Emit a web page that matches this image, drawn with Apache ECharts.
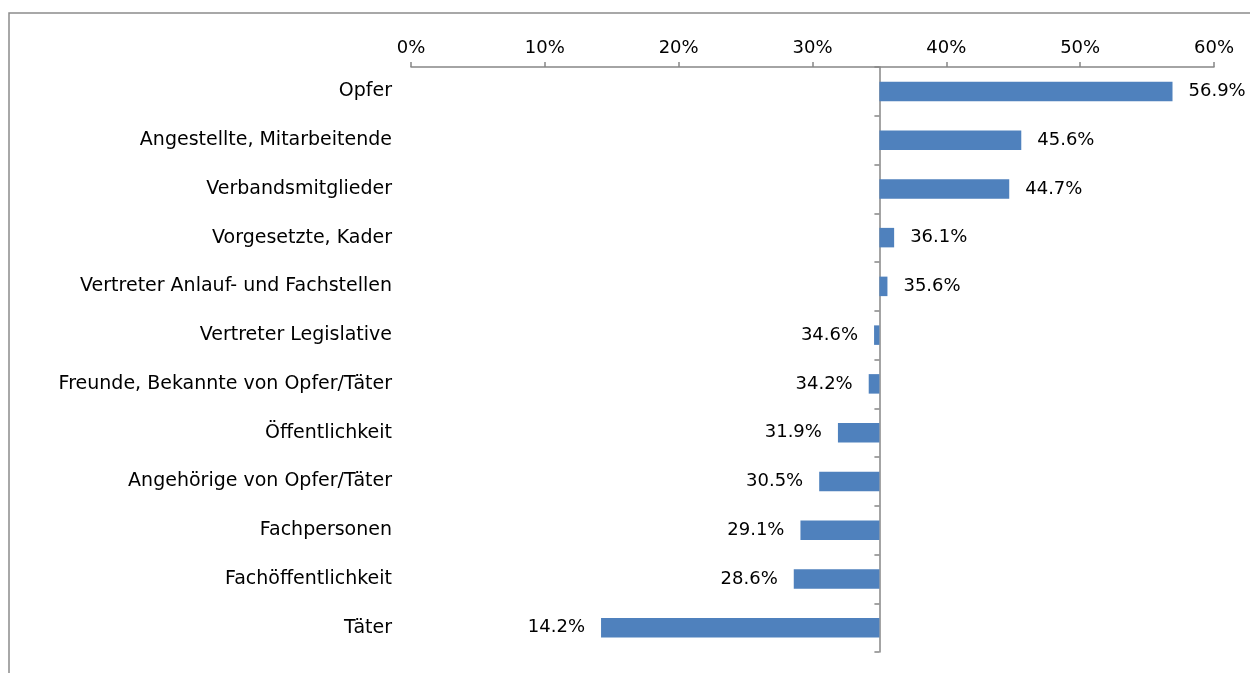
<!DOCTYPE html>
<html>
<head>
<meta charset="utf-8">
<script src="https://cdn.jsdelivr.net/npm/echarts@6/dist/echarts.min.js"></script>
<style>
  html, body { margin: 0; padding: 0; background: #fff; }
  #chart { width: 1250px; height: 673px; }
</style>
</head>
<body>
<div id="chart"></div>
<script>
// data (top to bottom)
const categories = [
  "Opfer",
  "Angestellte, Mitarbeitende",
  "Verbandsmitglieder",
  "Vorgesetzte, Kader",
  "Vertreter Anlauf- und Fachstellen",
  "Vertreter Legislative",
  "Freunde, Bekannte von Opfer/Täter",
  "Öffentlichkeit",
  "Angehörige von Opfer/Täter",
  "Fachpersonen",
  "Fachöffentlichkeit",
  "Täter"
];
const values = [56.9, 45.6, 44.7, 36.1, 35.6, 34.6, 34.2, 31.9, 30.5, 29.1, 28.6, 14.2];
const baseline = 35; // bars start from the mean line
const xMin = 0, xMax = 60, xStep = 10;

const font = "DejaVu Sans";
const gridLeft = 411, gridRight = 36;
const gridWidth = 1250 - gridLeft - gridRight;
const lineOffset = -gridWidth * (baseline - xMin) / (xMax - xMin);

// invisible part below the bar, then the visible bar from/to the baseline
const hidden = values.map(v => Math.min(v, baseline));
const shown = values.map(v => ({
  value: Math.abs(v - baseline),
  label: { position: v >= baseline ? "right" : "left" },
  raw: v
}));

const chart = echarts.init(document.getElementById("chart"));
chart.setOption({
  animation: false,
  textStyle: { fontFamily: font },
  graphic: [{
    type: "rect",
    shape: { x: 9, y: 13, width: 1400, height: 800 },
    style: { fill: "none", stroke: "#8c8c8c", lineWidth: 1.5 },
    silent: true
  }],
  grid: { left: gridLeft, right: gridRight, top: 67, bottom: 21 },
  xAxis: {
    type: "value",
    position: "top",
    min: xMin,
    max: xMax,
    interval: xStep,
    axisLine: { show: true, lineStyle: { color: "#868686", width: 1.5 } },
    axisTick: { show: true, length: 5, lineStyle: { color: "#868686", width: 1.5 } },
    axisLabel: { formatter: "{value}%", color: "#000", fontSize: 18, fontFamily: font, margin: 10 },
    splitLine: { show: false }
  },
  yAxis: [{
    type: "category",
    data: categories,
    inverse: true,
    axisLine: { show: false },
    axisTick: { show: false },
    axisLabel: { color: "#000", fontSize: 19, fontFamily: font, margin: 19 }
  }, {
    type: "category",
    data: categories,
    inverse: true,
    position: "left",
    offset: lineOffset,
    axisLine: { show: true, lineStyle: { color: "#868686", width: 1.5 } },
    axisTick: { show: true, length: 5, lineStyle: { color: "#868686", width: 1.5 } },
    axisLabel: { show: false }
  }],
  series: [{
    type: "bar",
    stack: "s",
    data: hidden,
    barWidth: "40%",
    itemStyle: { color: "transparent" },
    silent: true
  }, {
    type: "bar",
    stack: "s",
    data: shown,
    barWidth: "40%",
    itemStyle: { color: "#4f81bd" },
    label: {
      show: true,
      color: "#000",
      fontSize: 18,
      fontFamily: font,
      distance: 16,
      formatter: p => p.data.raw.toFixed(1) + "%"
    }
  }]
});
</script>
</body>
</html>
